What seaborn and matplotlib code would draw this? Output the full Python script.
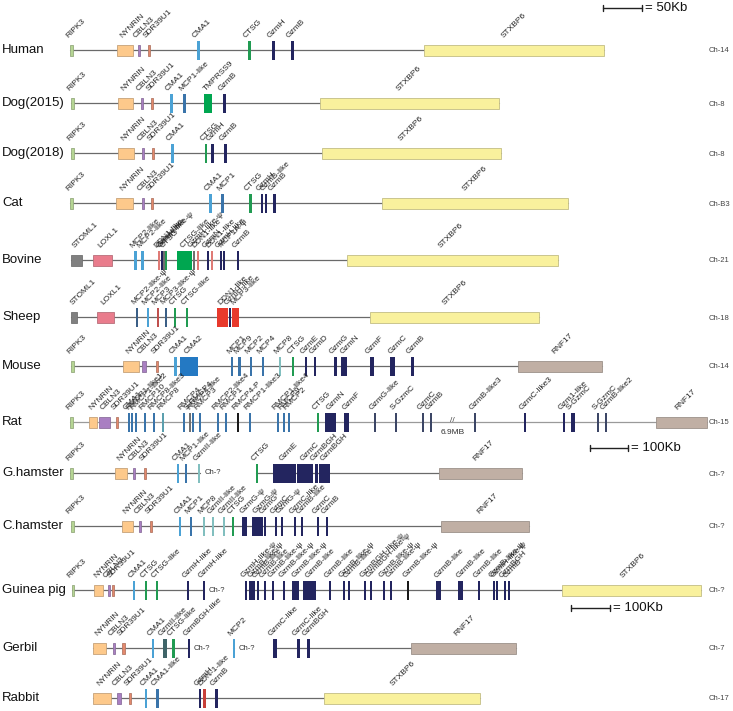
import matplotlib.pyplot as plt
import seaborn as sns

# Gen-Loci je Spezies: (Name, Start, Breite, Farbtyp), Position in Karteneinheiten
human = [('RIPK3', 70, 3, 'ripk3'), ('NYNRIN', 117, 16, 'nynrin'), ('CBLN3', 138, 2, 'cbln3'),
         ('SDR39U1', 148, 2, 'sdr'), ('CMA1', 197, 2.5, 'cma1'), ('CTSG', 248, 2.5, 'ctsg'),
         ('GzmH', 272, 2.5, 'gzm'), ('GzmB', 291, 2.5, 'gzm'), ('STXBP6', 424, 180, 'stx')]
dog2015 = [('RIPK3', 71, 3, 'ripk3'), ('NYNRIN', 118, 15, 'nynrin'), ('CBLN3', 141, 2, 'cbln3'),
           ('SDR39U1', 151, 2, 'sdr'), ('CMA1', 170, 2.5, 'cma1'), ('MCP1-like', 183, 2.5, 'mcp'),
           ('TMPRSS9', 204, 8, 'green'), ('GzmB', 223, 2.5, 'gzm'), ('STXBP6', 320, 179, 'stx')]
dog2018 = [('RIPK3', 71, 3, 'ripk3'), ('NYNRIN', 118, 16, 'nynrin'), ('CBLN3', 142, 2, 'cbln3'),
           ('SDR39U1', 152, 2, 'sdr'), ('CMA1', 171, 2.5, 'cma1'), ('CTSG', 205, 2, 'ctsg'),
           ('GzmH', 211, 2.5, 'gzm'), ('GzmB', 224, 2.5, 'gzm'), ('STXBP6', 322, 179, 'stx')]
cat = [('RIPK3', 70, 3, 'ripk3'), ('NYNRIN', 116, 17, 'nynrin'), ('CBLN3', 141.5, 1.5, 'cbln3'),
       ('SDR39U1', 151, 2, 'sdr'), ('CMA1', 209, 2.5, 'cma1'), ('MCP1', 221, 2.5, 'mcp'),
       ('CTSG', 249, 2.5, 'ctsg'), ('GzmH', 261, 2, 'gzm'), ('GzmB-like', 265, 2, 'gzm'),
       ('GzmB', 273, 2.5, 'gzm'), ('STXBP6', 382, 186, 'stx')]
bovine = [('STOML1', 71, 11, 'stoml'), ('LOXL1', 93, 19, 'loxl'), ('MCP2-like', 134, 2.5, 'cma1'),
          ('MCP2-like', 141, 3, 'cma1'), ('DDN1-like', 158, 1.5, 'ddn'), ('GzmH-like', 160.5, 1.5, 'gzm'),
          ('GzmH-like-ψ', 162.5, 1.5, 'gray'), ('CTSG', 165, 2, 'ctsg'), ('CTSG-like', 177, 15, 'green'),
          ('GzmH-like-ψ', 192.5, 2, 'gray'), ('DDN1-like', 196.5, 2, 'ddn'), ('GzmN', 207, 2, 'gzm'),
          ('DDN1-like', 210.5, 2, 'ddn'), ('GzmH-like', 219.5, 2, 'gzm'), ('MCP1A-ψ', 222.5, 2, 'gzm'),
          ('GzmB', 236.5, 2.5, 'gzm'), ('STXBP6', 347, 211, 'stx')]
sheep = [('STOML1', 71, 6, 'stoml'), ('LOXL1', 97, 17, 'loxl'), ('MCP2-like-ψ', 135.5, 2, 'mcpdk'),
         ('MCP2-like', 146.5, 2.5, 'cma1'), ('MCP3', 156.5, 2, 'mcpred'), ('MCP3-like-ψ', 164.5, 2, 'mcpdk'),
         ('CTSG', 173.5, 2, 'ctsg'), ('CTSG-like', 185.5, 2, 'ctsg'), ('DDN1-like', 217, 11, 'red'),
         ('GzmH-like', 228.5, 1.5, 'gzm'), ('MCP3-like', 232, 7, 'red'), ('STXBP6', 370, 169, 'stx')]
mouse = [('RIPK3', 71, 3, 'ripk3'), ('NYNRIN', 123, 16, 'nynrin'), ('CBLN3', 142, 4, 'cbln3'),
         ('SDR39U1', 156, 2, 'sdr'), ('CMA1', 174, 2.5, 'cma1'), ('CMA2', 180, 18, 'cma2'),
         ('MCP1', 231, 2, 'mcp'), ('MCP9', 238, 2.5, 'mcp'), ('MCP2', 249.5, 2, 'mcp'),
         ('MCP4', 261.5, 2, 'mcp'), ('MCP8', 278.5, 2, 'teal'), ('CTSG', 291.5, 2, 'ctsg'),
         ('GzmE', 304.5, 2.5, 'gzm'), ('GzmD', 313.5, 2, 'gzm'), ('GzmG', 334, 2.5, 'gzm'),
         ('GzmN', 341, 6, 'gzm'), ('GzmF', 370, 4, 'gzm'), ('GzmC', 389.5, 5, 'gzm'),
         ('GzmB', 411, 2.5, 'gzm'), ('RNF17', 518, 84, 'rnf')]
rat = [('RIPK3', 70, 3, 'ripk3'), ('NYNRIN', 89, 8, 'nynrin'), ('CBLN3', 99, 11, 'cbln3'),
       ('SDR39U1', 115.5, 1.5, 'sdr'), ('CMA1', 127.5, 1.5, 'mcp'), ('RMCP1-like1', 130.5, 1.5, 'mcp'),
       ('RMCP1-like2', 134.5, 1.5, 'mcp'), ('RMCP10', 143.5, 1.5, 'mcp'), ('RMCP8-like3', 152.5, 1.5, 'mcp'),
       ('RMCP8', 161.5, 1.5, 'tealdk'), ('RMCP4', 182.5, 1.5, 'mcp'), ('S-RMCP4', 188.5, 1.5, 'gray'),
       ('RMCP4-like', 191.5, 2, 'mcp'), ('RMCP3', 198.5, 1.5, 'mcp'), ('RMCP2-like4', 216.5, 1.5, 'mcp'),
       ('RMCP1', 224.5, 1.5, 'mcp'), ('RMCP4-P', 236.5, 1.5, 'black'), ('RMCP1-like3', 248.5, 1.5, 'mcp'),
       ('RMCP1-like4', 276.5, 1.5, 'mcp'), ('RMCP9', 282.5, 1.5, 'mcp'), ('RMCP2', 287.5, 1.5, 'mcp'),
       ('CTSG', 316.5, 2.5, 'ctsg'), ('GzmN', 325, 11, 'gzm'), ('GzmF', 344, 5, 'gzm'),
       ('GzmG-like', 373.5, 1.5, 'slate'), ('S-GzmC', 394.5, 1.5, 'slate'), ('GzmC', 421.5, 1.5, 'slate'),
       ('GzmB', 429.5, 1.5, 'slate'), ('GzmB-like3', 473.5, 1.5, 'slate'), ('GzmC-like3', 523.5, 2.5, 'gzm'),
       ('Gzm1-like', 562.5, 2.5, 'gzm'), ('S-GzmC', 571, 4, 'gzm'), ('S-GzmC', 596.5, 1.5, 'slate'),
       ('GzmB-like2', 604.5, 1.5, 'slate'), ('RNF17', 656, 51, 'rnf')]
ghamster_a = [('RIPK3', 70, 3, 'ripk3'), ('NYNRIN', 115, 12, 'nynrin'), ('CBLN3', 133, 1.5, 'cbln3'),
              ('SDR39U1', 143.5, 2, 'sdr'), ('CMA1', 176.5, 2.5, 'cma1'), ('MCP1-like', 184.5, 2, 'mcp'),
              ('GzmII-like', 197.5, 2, 'teal')]
ghamster_b = [('CTSG', 255.5, 2, 'ctsg'), ('GzmE', 273, 23, 'gzm'), ('GzmC', 297, 16, 'gzm'),
              ('GzmBGH', 315, 2.5, 'gzm'), ('GzmBGH', 318.5, 11.5, 'gzm'), ('RNF17', 439, 83, 'rnf')]
chamster = [('RIPK3', 70.5, 3, 'ripk3'), ('NYNRIN', 122, 11, 'nynrin'), ('CBLN3', 139, 1.5, 'cbln3'),
            ('SDR39U1', 149.5, 2, 'sdr'), ('CMA1', 178.5, 2.5, 'cma1'), ('MCP1', 189.5, 2, 'mcp'),
            ('MCP8', 202.5, 2, 'teal'), ('GzmII-like', 211.5, 2, 'teal'), ('GzmII-like', 222.5, 2, 'teal'),
            ('CTSG', 231.5, 2, 'ctsg'), ('GzmG-ψ', 242, 4.5, 'gzm'), ('GzmG-ψ', 252, 11, 'gzm'),
            ('GzmG', 264, 1.5, 'gzm'), ('GzmC', 274.5, 2, 'gzm'), ('GzmG-ψ', 280.5, 2, 'gzm'),
            ('GzmC-like', 294, 2, 'gzm'), ('GzmB-like', 301, 2, 'gzm'), ('GzmC', 316.5, 2, 'gzm'),
            ('GzmB', 325.5, 2, 'gzm'), ('RNF17', 441, 88, 'rnf')]
guinea_a = [('RIPK3', 71.5, 1.5, 'ripk3'), ('NYNRIN', 94, 9, 'nynrin'), ('CBLN3', 107.5, 1.5, 'cbln3'),
            ('SDR39U1', 111.5, 1.5, 'sdr'), ('CMA1', 132.5, 2, 'cma1'), ('CTSG', 144.5, 2, 'ctsg'),
            ('CTSG-like', 155.5, 1.5, 'ctsg'), ('GzmH-like', 186.5, 2, 'gzm'), ('GzmH-like', 202.5, 1.5, 'gzm')]
guinea_b = [('GzmH-like-ψ', 245, 1.5, 'gzm'), ('GzmB-like-ψ', 249, 6, 'gzm'), ('GzmB-like', 257, 1.5, 'gzm'),
            ('GzmB-like', 264, 1.5, 'gzm'), ('GzmB-like-ψ', 272, 1.5, 'gzm'), ('GzmB-like-ψ', 283, 1.5, 'gzm'),
            ('GzmB-like-ψ', 292, 7, 'gzm'), ('GzmB-like', 303, 13, 'gzm'), ('GzmB-like', 329, 1.5, 'gzm'),
            ('GzmB-like-ψ', 343, 1.5, 'gzm'), ('GzmB-like', 348, 1.5, 'gzm'), ('GzmBGH-like-ψ', 364, 1.5, 'gzm'),
            ('GzmBGH-like-ψ', 370, 1.5, 'gzm'), ('GzmB-like-ψ', 383, 1.5, 'gzm'), ('GzmB-like-ψ', 390, 1.5, 'gzm'),
            ('GzmB-like-ψ', 407, 1.5, 'black'), ('GzmB-like', 436, 5, 'gzm'), ('GzmB-like', 458, 5, 'gzm'),
            ('GzmB-like', 478, 1.5, 'gzm'), ('GzmB-like-ψ', 493, 1.5, 'gzm'), ('GzmH-like-ψ', 495.5, 1.5, 'gzm'),
            ('GzmBGH', 504, 1.5, 'gzm'), ('GzmB', 508, 1.5, 'gzm'), ('STXBP6', 562, 139, 'stx')]
gerbil_a = [('NYNRIN', 93, 13, 'nynrin'), ('CBLN3', 112.5, 1.5, 'cbln3'), ('SDR39U1', 122, 2.5, 'sdr'),
            ('CMA1', 151.5, 2.5, 'cma1'), ('GzmII-like', 163, 3.5, 'dkteal'), ('CTSG-like', 172, 2.5, 'ctsg'),
            ('GzmBGH-like', 187.5, 1.5, 'gzm')]
gerbil_b = [('MCP2', 232.5, 1, 'cma1')]
gerbil_c = [('GzmC-like', 273, 3.5, 'gzm'), ('GzmC-like', 297, 2.5, 'gzm'), ('GzmBGH', 307, 2.5, 'gzm'),
            ('RNF17', 411, 105, 'rnf')]
rabbit = [('NYNRIN', 93, 18, 'nynrin'), ('CBLN3', 117, 3.5, 'cbln3'), ('SDR39U1', 128.5, 2, 'sdr'),
          ('CMA1', 144.5, 2.5, 'cma1'), ('CMA1-like', 156, 2.5, 'mcp'), ('GzmH', 198.5, 2.5, 'gzm'),
          ('DDN-1-like', 202.5, 3, 'ddnred'), ('GzmB', 215, 2.5, 'gzm'), ('STXBP6', 324, 156, 'stx')]

species = ['Human', 'Dog(2015)', 'Dog(2018)', 'Cat', 'Bovine', 'Sheep', 'Mouse', 'Rat',
           'G.hamster', 'C.hamster', 'Guinea pig', 'Gerbil', 'Rabbit']
chromosomes = ['Ch-14', 'Ch-8', 'Ch-8', 'Ch-B3', 'Ch-21', 'Ch-18', 'Ch-14', 'Ch-15',
               'Ch-?', 'Ch-?', 'Ch-?', 'Ch-7', 'Ch-17']
loci = [[human], [dog2015], [dog2018], [cat], [bovine], [sheep], [mouse], [rat],
        [ghamster_a, ghamster_b], [chamster], [guinea_a, guinea_b],
        [gerbil_a, gerbil_b, gerbil_c], [rabbit]]

farben = {'ripk3': '#b5d593', 'nynrin': '#fdc98b', 'cbln3': '#a97fc2', 'sdr': '#e3896d',
          'cma1': '#4ba2d5', 'mcp': '#3a74aa', 'mcpdk': '#3b5f86', 'mcpred': '#c0504d',
          'teal': '#82bfbf', 'tealdk': '#5b9fae', 'dkteal': '#3f6468', 'ctsg': '#219b52',
          'gzm': '#23255f', 'slate': '#3c4666', 'stx': '#f9f19d', 'rnf': '#c0afa4',
          'stoml': '#808080', 'loxl': '#e97c8c', 'cma2': '#2479c3', 'green': '#00a650',
          'red': '#e8392c', 'ddn': '#df7b76', 'ddnred': '#c8403a', 'gray': '#707070',
          'black': '#1a1a1a'}
flanken = ['ripk3', 'nynrin', 'cbln3', 'sdr', 'stx', 'rnf', 'stoml', 'loxl']

# Layout
zeilen_y = [50, 103, 153, 203, 260, 317, 366, 422, 473, 526, 590, 648, 698]

sns.set_theme(style='white')
plt.rcParams['font.family'] = ['Liberation Sans', 'DejaVu Sans']

fig = plt.figure(figsize=(7.33, 7.11), dpi=100)
ax = fig.add_axes([0, 0, 1, 1])
ax.set_xlim(0, 733)
ax.set_ylim(711, 0)
ax.axis('off')

for name, chrom, segmente, y in zip(species, chromosomes, loci, zeilen_y):
    ax.text(2, y, name, fontsize=9.5, va='center', ha='left', color='#111111')
    ax.text(709, y + 1, chrom, fontsize=5.5, va='center', ha='left', color='#444444')
    for k, seg in enumerate(segmente):
        x0 = min(g[1] for g in seg)
        x1 = max(g[1] + g[2] for g in seg)
        lc = '#9a9a9a' if name == 'Rat' else '#6a6a6a'
        ax.plot([x0, x1], [y, y], color=lc, lw=0.9, zorder=1)
        if k < len(segmente) - 1:
            ax.text(x1 + 5, y, 'Ch-?', fontsize=5.5, va='center', ha='left', color='#333333')
        for gen, start, breite, typ in seg:
            h = 11 if typ in flanken else 19
            breite = max(breite, 2)
            ec = sns.blend_palette([farben[typ], '#555555'], 4)[1] if typ in flanken else 'none'
            ax.barh(y, breite, left=start, height=h, color=farben[typ],
                    edgecolor=ec, linewidth=0.6, zorder=2)
            lx = start + 0.45 * breite if breite > 4 else start - 0.5
            ax.text(lx, y - 11, gen, fontsize=6, rotation=45, rotation_mode='anchor',
                    ha='left', va='bottom', color='#222222', zorder=3)

# Bruchstelle Rat (6.9MB)
ax.text(452, 421, '//', fontsize=6, ha='center', va='center', color='#444444')
ax.text(453, 433, '6.9MB', fontsize=6, ha='center', va='center', color='#333333')

# Massstaebe
for x0, x1, y, txt in [(603, 642, 8, '= 50Kb'), (590, 628, 448, '= 100Kb'), (571, 610, 608, '= 100Kb')]:
    ax.plot([x0, x1], [y, y], color='#222222', lw=1)
    ax.plot([x0, x0], [y - 3, y + 3], color='#222222', lw=1)
    ax.plot([x1, x1], [y - 3, y + 3], color='#222222', lw=1)
    ax.text(x1 + 3, y, txt, fontsize=9.5, va='center', ha='left', color='#111111')

plt.savefig('out.png', dpi=100)
